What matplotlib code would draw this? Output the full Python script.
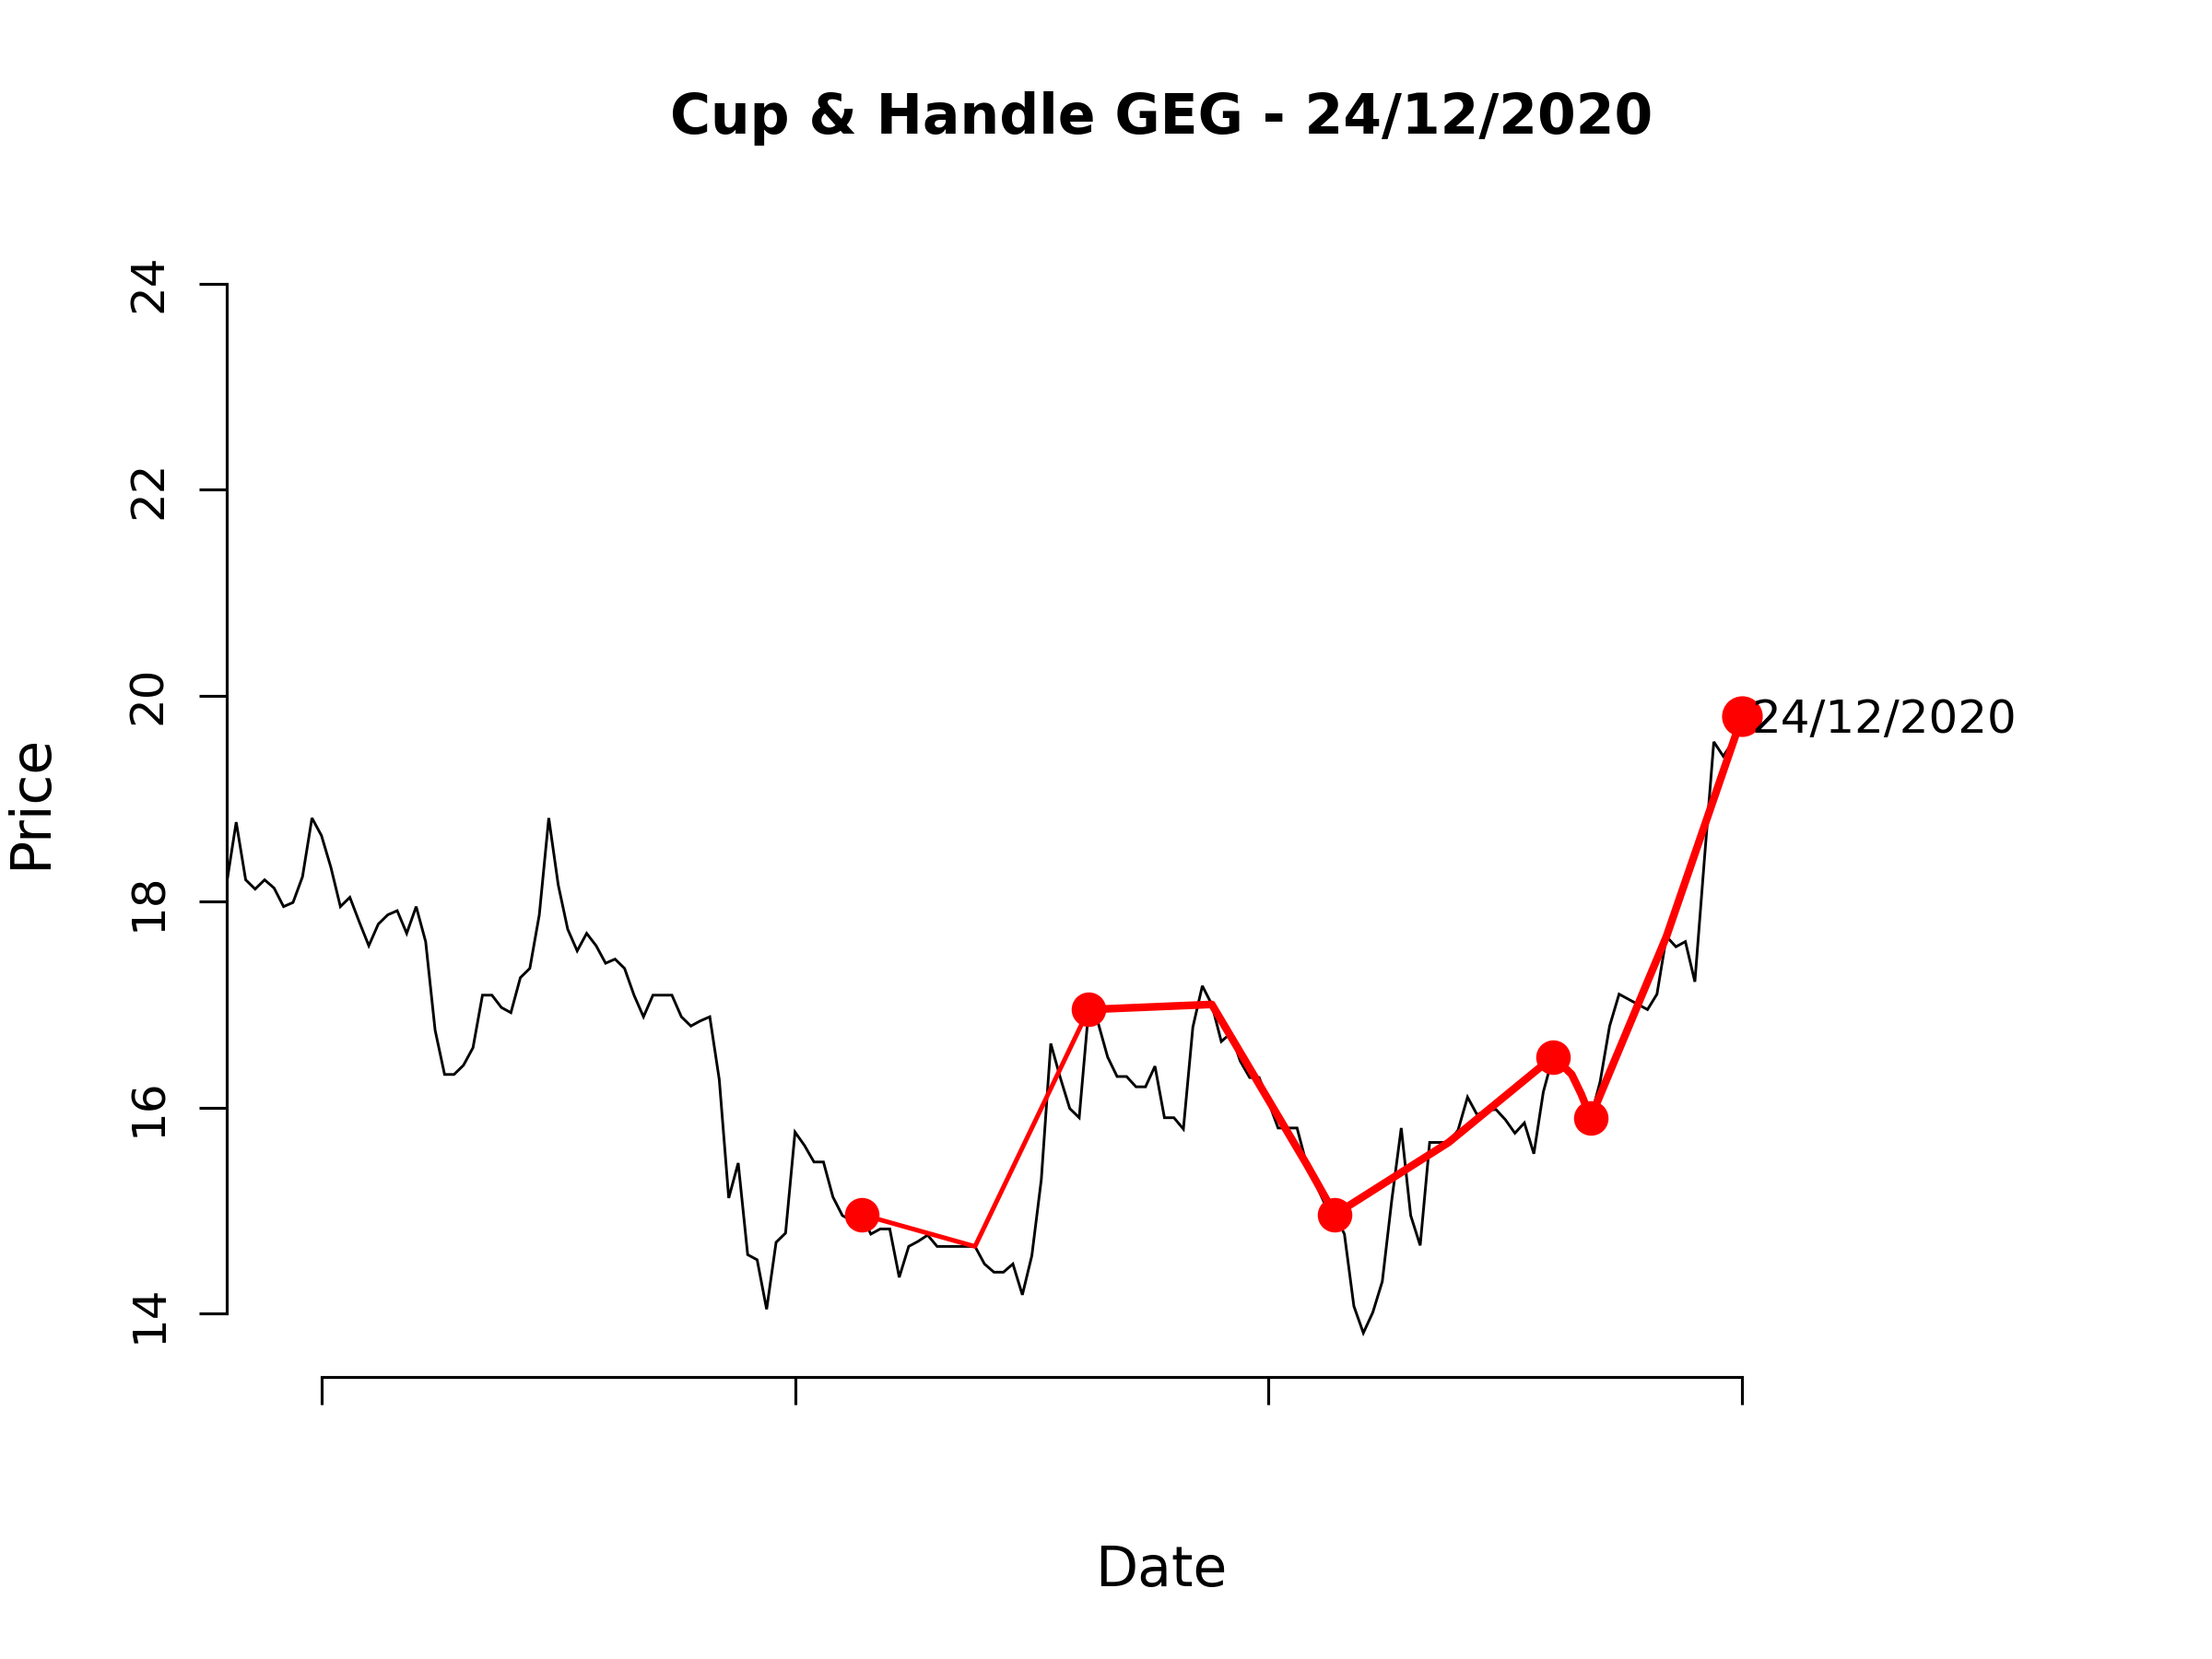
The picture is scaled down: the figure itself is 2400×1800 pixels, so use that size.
import matplotlib
matplotlib.use("Agg")
import matplotlib.pyplot as plt
import numpy as np

# ---- data -------------------------------------------------------------
price = [
    18.18, 18.77, 18.21, 18.12, 18.21, 18.13, 17.95, 17.99, 18.24, 18.81,
    18.64, 18.33, 17.95, 18.04, 17.80, 17.57, 17.78, 17.87, 17.91, 17.69,
    17.95, 17.61, 16.75, 16.32, 16.32, 16.41, 16.58, 17.09, 17.09, 16.97,
    16.92, 17.26, 17.35, 17.87, 18.81, 18.16, 17.73, 17.52, 17.69, 17.57,
    17.40, 17.44, 17.35, 17.09, 16.88, 17.09, 17.09, 17.09, 16.88, 16.79,
    16.84, 16.88, 16.27, 15.12, 15.46, 14.57, 14.52, 14.04, 14.69, 14.78,
    15.76, 15.63, 15.47, 15.47, 15.13, 14.95, 14.90, 14.96, 14.77, 14.82,
    14.82, 14.35, 14.65, 14.70, 14.76, 14.65, 14.65, 14.65, 14.65, 14.65,
    14.48, 14.40, 14.40, 14.48, 14.18, 14.56, 15.30, 16.62, 16.29, 15.99,
    15.90, 16.95, 16.82, 16.49, 16.30, 16.30, 16.20, 16.20, 16.40, 15.90,
    15.90, 15.79, 16.78, 17.18, 17.00, 16.64, 16.72, 16.45, 16.29, 16.29,
    16.05, 15.80, 15.80, 15.80, 15.45, 15.25, 15.05, 14.96, 14.77, 14.07,
    13.81, 14.01, 14.31, 15.10, 15.80, 14.95, 14.66, 15.66, 15.66, 15.66,
    15.78, 16.10, 15.93, 15.97, 15.98, 15.88, 15.75, 15.85, 15.55, 16.15,
    16.49, 16.41, 16.32, 16.13, 15.90, 16.25, 16.79, 17.10, 17.05, 17.00,
    16.95, 17.10, 17.66, 17.56, 17.61, 17.22, 18.40, 19.55, 19.41, 19.55,
    19.80,
]
# pattern path (indices into price)
lip_path = [67, 79, 91]
cup_handle_path = [91, 104, 114, 117, 129, 140, 141, 142, 143, 144, 152, 160]
marker_idx = [67, 91, 117, 140, 144]
last_idx = 160
last_label = "24/12/2020"
title = "Cup & Handle GEG - 24/12/2020"
x_ticks = [10, 60, 110, 160]
y_ticks = [14, 16, 18, 20, 22, 24]

# ---- figure -----------------------------------------------------------
W, H = 2400, 1800
fig = plt.figure(figsize=(8, 6), dpi=300)
left, right, top, bottom = 246, 2274, 246, 1494
ax = fig.add_axes([left / W, 1 - bottom / H, (right - left) / W, (bottom - top) / H])

x = np.arange(len(price))
p = np.array(price)

ax.plot(x, p, color="black", lw=0.7, solid_joinstyle="miter")

ax.plot(lip_path, p[lip_path], color="#ff0000", lw=1.2,
        solid_capstyle="round", solid_joinstyle="round")
ax.plot(cup_handle_path, p[cup_handle_path], color="#ff0000", lw=2.0,
        solid_capstyle="round", solid_joinstyle="round")
ax.plot(marker_idx, p[marker_idx], "o", color="#ff0000", ms=9.0, mew=0)
ax.plot([last_idx], [p[last_idx]], "o", color="#ff0000", ms=10.6, mew=0)

ax.annotate(last_label, (last_idx, p[last_idx]), xytext=(2.4, -4.35),
            textcoords="offset points", ha="left", va="baseline",
            fontsize=12, annotation_clip=False, zorder=5)

# axis scaling: px per unit
ppu_y = (1425.0 - 307.65) / 10.0
ax.set_ylim(14 - (bottom - 1425.0) / ppu_y, 24 + (307.65 - top) / ppu_y)
ppi_x = (1890.3 - left) / 160.0
ax.set_xlim(0, (right - left) / ppi_x)

for s in ["top", "right"]:
    ax.spines[s].set_visible(False)
ax.spines["left"].set_bounds(14, 24)
ax.spines["bottom"].set_bounds(10, 160)
for s in ["left", "bottom"]:
    ax.spines[s].set_linewidth(0.75)

ax.set_xticks(x_ticks)
ax.set_xticklabels([])
ax.set_yticks(y_ticks)
ax.set_yticklabels([str(v) for v in y_ticks], fontsize=12, rotation=90,
                   va="center", ha="right")
ax.tick_params(axis="both", direction="out", length=7.2, width=0.75)
ax.tick_params(axis="y", pad=7.4)
ax.patch.set_alpha(0)

fig.text((left + right) / 2 / W, 1 - 145 / H, title, ha="center",
         va="baseline", fontsize=14.4, fontweight="bold")
fig.text((left + right) / 2 / W, 1 - 1721 / H, "Date", ha="center",
         va="baseline", fontsize=14.4)
fig.text(50 / W, 1 - 870 / H, "Price", ha="center", va="baseline",
         rotation=90, rotation_mode="anchor", fontsize=14.4)

fig.savefig("out.png", dpi=300, facecolor="white")
